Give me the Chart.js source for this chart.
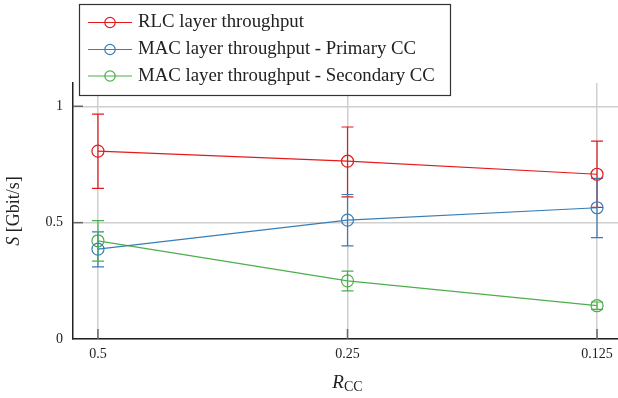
<!DOCTYPE html>
<html>
<head>
<meta charset="utf-8">
<script src="https://cdn.jsdelivr.net/npm/chart.js@4.4.1/dist/chart.umd.min.js"></script>
<style>
  body { margin: 0; background: #fff; }
  canvas { display: block; }
</style>
</head>
<body>
<canvas id="c" width="618" height="398"></canvas>
<script>
// カテゴリ (R_CC)
const categories = ['0.5', '0.25', '0.125'];

// RLC layer throughput
const rlcMean = [0.807, 0.764, 0.708];
const rlcLow  = [0.647, 0.611, 0.566];
const rlcHigh = [0.966, 0.911, 0.85];

// MAC layer throughput - Primary CC
const primaryMean = [0.386, 0.511, 0.564];
const primaryLow  = [0.31, 0.40, 0.436];
const primaryHigh = [0.46, 0.621, 0.69];

// MAC layer throughput - Secondary CC
const secondaryMean = [0.422, 0.25, 0.143];
const secondaryLow  = [0.335, 0.207, 0.127];
const secondaryHigh = [0.509, 0.292, 0.159];

const yTicks = [0, 0.5, 1];

const RED = '#e41a1c';
const BLUE = '#377eb8';
const GREEN = '#4daf4a';
const SERIF = '"Liberation Serif", "DejaVu Serif", serif';

function toPoints(arr) {
    return arr.map((v, i) => ({ x: i, y: v }));
}

function makeSet(label, color, mean, low, high) {
    return {
        label: label,
        data: toPoints(mean),
        low: low,
        high: high,
        borderColor: color,
        backgroundColor: 'rgba(0,0,0,0)',
        borderWidth: 1.2,
        pointRadius: 6,
        pointBorderWidth: 1.2,
        pointBorderColor: color,
        pointBackgroundColor: 'rgba(0,0,0,0)',
        tension: 0
    };
}

// エラーバー
const errorBars = {
    id: 'errorBars',
    beforeDatasetsDraw(chart) {
        const ctx = chart.ctx;
        const xs = chart.scales.x, ys = chart.scales.y;
        chart.data.datasets.forEach(ds => {
            ctx.save();
            ctx.strokeStyle = ds.borderColor;
            ctx.lineWidth = 1.2;
            ds.data.forEach((p, i) => {
                const x = xs.getPixelForValue(p.x);
                const y1 = ys.getPixelForValue(ds.low[i]);
                const y2 = ys.getPixelForValue(ds.high[i]);
                ctx.beginPath();
                ctx.moveTo(x, y1); ctx.lineTo(x, y2);
                ctx.moveTo(x - 6, y1); ctx.lineTo(x + 6, y1);
                ctx.moveTo(x - 6, y2); ctx.lineTo(x + 6, y2);
                ctx.stroke();
            });
            ctx.restore();
        });
    }
};

// 内向きの目盛り・x軸ラベル・軸タイトル・凡例
const decorations = {
    id: 'decorations',
    afterDraw(chart) {
        const ctx = chart.ctx;
        const xs = chart.scales.x, ys = chart.scales.y;
        const area = chart.chartArea;

        ctx.save();
        ctx.strokeStyle = '#666';
        ctx.lineWidth = 1.5;
        yTicks.slice(1).forEach(v => {
            const y = ys.getPixelForValue(v);
            ctx.beginPath();
            ctx.moveTo(area.left, y); ctx.lineTo(area.left + 10, y);
            ctx.stroke();
        });
        categories.forEach((c, i) => {
            const x = xs.getPixelForValue(i);
            ctx.beginPath();
            ctx.moveTo(x, area.bottom); ctx.lineTo(x, area.bottom - 10);
            ctx.stroke();
        });

        // x軸の目盛りラベル
        ctx.fillStyle = '#222';
        ctx.font = '14px ' + SERIF;
        ctx.textAlign = 'center';
        ctx.textBaseline = 'middle';
        categories.forEach((c, i) => {
            ctx.fillText(c, xs.getPixelForValue(i), area.bottom + 15);
        });

        // x軸タイトル R_CC
        ctx.textBaseline = 'alphabetic';
        ctx.textAlign = 'left';
        const cx = xs.getPixelForValue(1);
        ctx.font = 'italic 19px ' + SERIF;
        const rw = ctx.measureText('R').width;
        ctx.font = '14px ' + SERIF;
        const sw = ctx.measureText('CC').width;
        const startX = cx - (rw + sw) / 2;
        ctx.font = 'italic 19px ' + SERIF;
        ctx.fillText('R', startX, 388);
        ctx.font = '14px ' + SERIF;
        ctx.fillText('CC', startX + rw, 391);

        // y軸タイトル S [Gbit/s]
        ctx.save();
        ctx.translate(19, (area.top + area.bottom) / 2);
        ctx.rotate(-Math.PI / 2);
        ctx.font = 'italic 18px ' + SERIF;
        const s1 = ctx.measureText('S').width;
        ctx.font = '18px ' + SERIF;
        const s2 = ctx.measureText(' [Gbit/s]').width;
        const sx = -(s1 + s2) / 2;
        ctx.font = 'italic 18px ' + SERIF;
        ctx.fillText('S', sx, 0);
        ctx.font = '18px ' + SERIF;
        ctx.fillText(' [Gbit/s]', sx + s1, 0);
        ctx.restore();

        // 凡例
        const bx = 79, by = 4, bw = 371, bh = 91;
        ctx.fillStyle = '#fff';
        ctx.fillRect(bx, by, bw, bh);
        ctx.strokeStyle = '#333';
        ctx.lineWidth = 1.2;
        ctx.strokeRect(bx + 0.5, by + 0.5, bw, bh);
        const rows = [22.5, 49.5, 76];
        chart.data.datasets.forEach((ds, i) => {
            const y = rows[i];
            ctx.strokeStyle = ds.borderColor;
            ctx.lineWidth = 1.2;
            ctx.beginPath();
            ctx.moveTo(88, y); ctx.lineTo(132, y);
            ctx.stroke();
            ctx.beginPath();
            ctx.arc(110, y, 5.2, 0, Math.PI * 2);
            ctx.stroke();
            ctx.fillStyle = '#222';
            ctx.font = '18.8px ' + SERIF;
            ctx.textBaseline = 'middle';
            ctx.fillText(ds.label, 138, y);
        });
        ctx.restore();
    }
};

const chart = new Chart(document.getElementById('c'), {
    type: 'line',
    data: {
        datasets: [
            makeSet('RLC layer throughput', RED, rlcMean, rlcLow, rlcHigh),
            makeSet('MAC layer throughput - Primary CC', BLUE, primaryMean, primaryLow, primaryHigh),
            makeSet('MAC layer throughput - Secondary CC', GREEN, secondaryMean, secondaryLow, secondaryHigh)
        ]
    },
    options: {
        responsive: false,
        animation: false,
        devicePixelRatio: 1,
        layout: { autoPadding: false, padding: { top: 83, right: 0, left: 0, bottom: 0 } },
        plugins: {
            legend: { display: false },
            tooltip: { enabled: false }
        },
        scales: {
            x: {
                type: 'linear',
                min: -0.1,
                max: 2.084,
                afterBuildTicks: s => { s.ticks = categories.map((c, i) => ({ value: i })); },
                afterFit: s => { s.height = 59; },
                ticks: { display: false },
                grid: { color: '#cfcfcf', lineWidth: 1.5, drawTicks: false },
                border: { color: '#222', width: 1.5 }
            },
            y: {
                min: 0,
                max: 1.1,
                afterBuildTicks: s => { s.ticks = yTicks.map(v => ({ value: v })); },
                afterFit: s => { s.width = 73; s.paddingTop = 0; s.paddingBottom = 0; },
                ticks: {
                    callback: v => String(v),
                    color: '#222',
                    font: { family: SERIF, size: 14 },
                    padding: 10
                },
                grid: { color: '#cfcfcf', lineWidth: 1.5, drawTicks: false },
                border: { color: '#222', width: 1.5 }
            }
        }
    },
    plugins: [errorBars, decorations]
});
</script>
</body>
</html>
